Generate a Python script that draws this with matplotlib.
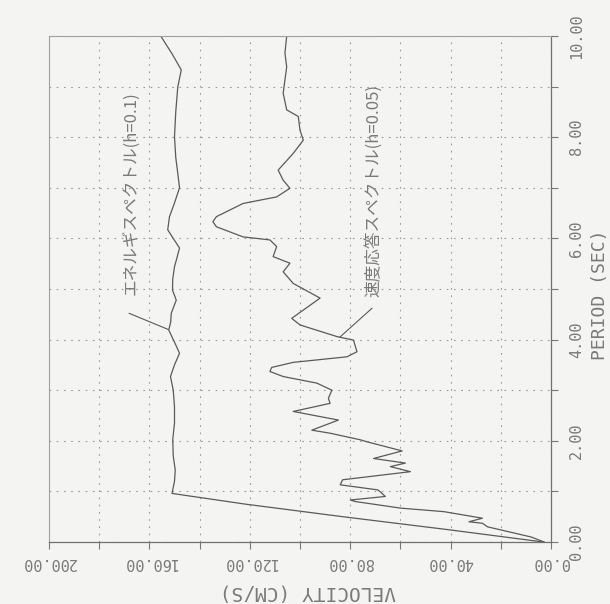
import matplotlib
matplotlib.use("Agg")
import matplotlib.pyplot as plt
from matplotlib.ticker import MultipleLocator

# energy spectrum h=0.1
e_period = [0.0, 0.25, 0.5, 0.75, 0.96, 1.2, 1.42, 1.7, 2.02, 2.35, 2.67, 3.0,
            3.27, 3.5, 3.73, 3.95, 4.19, 4.35, 4.52, 4.78, 4.98, 5.2, 5.44, 5.62,
            5.81, 6.0, 6.17, 6.43, 6.7, 7.0, 7.29, 7.6, 8.01, 8.5, 8.99, 9.33,
            9.65, 10.0]
e_vel = [3, 42, 83, 122, 151, 150, 149.7, 150.5, 150.7, 150, 150, 150.5,
         151.6, 150, 148, 150, 152.3, 151.5, 151.3, 149.3, 150.8, 150.7, 150, 149,
         148, 150.5, 152.7, 152, 150, 148, 148.7, 149.5, 150, 149.5, 148.7, 147.3,
         151, 155.5]

# velocity response spectrum h=0.05
r_period = [0.0, 0.1, 0.3, 0.37, 0.40, 0.47, 0.60, 0.67, 0.80, 0.83, 0.90, 0.99,
            1.03, 1.13, 1.23, 1.39, 1.49, 1.56, 1.65, 1.80, 1.98, 2.02, 2.15, 2.21,
            2.41, 2.58, 2.74, 2.84, 3.0, 3.14, 3.27, 3.37, 3.45, 3.55, 3.66, 3.76,
            3.99, 4.06, 4.29, 4.42, 4.82, 5.11, 5.34, 5.51, 5.64, 5.84, 5.97, 6.03,
            6.23, 6.33, 6.43, 6.69, 6.82, 6.99, 7.15, 7.35, 7.68, 7.94, 8.14, 8.41,
            8.54, 8.87, 9.39, 9.66, 10.0]
r_vel = [2.7, 8, 25.3, 27.3, 32.7, 27.3, 42.7, 60, 78, 80, 66, 68,
         69, 84, 83, 56, 64, 58, 70.7, 59.3, 73.3, 76, 88, 95.3,
         84.7, 102.7, 88, 88.7, 87.3, 93.3, 106.7, 112, 111.3, 102.7, 81.3, 77.3,
         78.7, 85.3, 100, 103.3, 92, 102.7, 106.7, 104, 110.7, 109.3, 112, 122.7,
         133.3, 134.7, 133.3, 122.7, 109.3, 104, 106.7, 108.7, 102.7, 98.7, 100, 100.7,
         105.3, 106.7, 105.3, 106, 105.3]

vel_ticks = [0, 40, 80, 120, 160, 200]
per_ticks = [0, 2, 4, 6, 8, 10]

bg = "#f4f4f2"
ink = "#5a5a5a"
txt = "#7a7a7a"

fig = plt.figure(figsize=(6.10, 6.04), dpi=100, facecolor=bg)
ax = fig.add_axes([49/610, 1-542/604, 502/610, 506/604], facecolor=bg)

ax.plot(e_vel, e_period, color=ink, lw=0.9)
ax.plot(r_vel, r_period, color=ink, lw=0.9)

ax.set_xlim(200, 0)
ax.set_ylim(0, 10)

ax.xaxis.set_minor_locator(MultipleLocator(20))
ax.yaxis.set_minor_locator(MultipleLocator(1))
ax.set_xticks(vel_ticks)
ax.set_xticklabels(["%.2f" % v for v in vel_ticks], rotation=180,
                   family="DejaVu Sans Mono", fontsize=11, color=txt)
ax.yaxis.tick_right()
ax.set_yticks(per_ticks)
ax.set_yticklabels(["%.2f" % p for p in per_ticks], rotation=90, va="center",
                   family="DejaVu Sans Mono", fontsize=11, color=txt)

ax.tick_params(axis="both", which="both", direction="out", length=5,
               width=0.8, color="#777777")
ax.tick_params(axis="x", which="major", pad=4.5)
ax.tick_params(axis="y", which="major", pad=8)

ax.grid(True, which="both", color="#9a9a9a", lw=0.8, linestyle=(0, (1.5, 5)))

for s in ["left", "top"]:
    ax.spines[s].set_color("#a0a0a0")
    ax.spines[s].set_linewidth(0.8)
for s in ["right", "bottom"]:
    ax.spines[s].set_color("#707070")
    ax.spines[s].set_linewidth(0.9)

fig.text(308/610, 1-592/604, "VELOCITY (CM/S)", rotation=180, ha="center",
         va="center", family="DejaVu Sans Mono", fontsize=14, color=txt)
fig.text(600/610, 1-295/604, "PERIOD (SEC)", rotation=90, ha="center",
         va="center", family="DejaVu Sans Mono", fontsize=13, color=txt)

jp = ["Noto Sans CJK JP", "DejaVu Sans"]
ax.text(167.5, 4.88, "エネルギスペクトル(h=0.1)", rotation=90, ha="center",
        va="bottom", family=jp, fontsize=12, color=txt)
ax.annotate("", xy=(152.5, 4.20), xytext=(168.1, 4.52),
            arrowprops=dict(arrowstyle="-", color=ink, lw=0.8,
                            shrinkA=0, shrinkB=0))
ax.text(70.9, 4.84, "速度応答スペクトル(h=0.05)", rotation=90, ha="center",
        va="bottom", family=jp, fontsize=12, color=txt)
ax.annotate("", xy=(84.1, 4.05), xytext=(71.3, 4.62),
            arrowprops=dict(arrowstyle="-", color=ink, lw=0.8,
                            shrinkA=0, shrinkB=0))

fig.savefig("out.png", dpi=100, facecolor=bg)
